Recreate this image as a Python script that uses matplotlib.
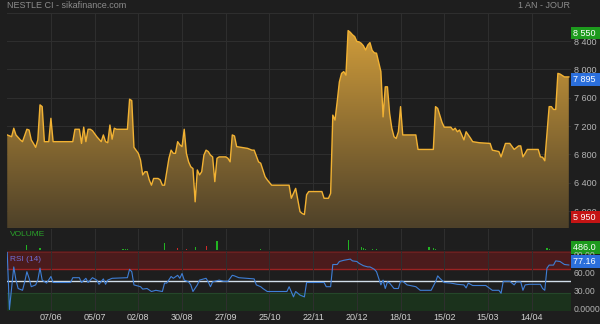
import numpy as np
import matplotlib
matplotlib.use("Agg")
import matplotlib.pyplot as plt
from matplotlib.colors import LinearSegmentedColormap
from matplotlib.transforms import blended_transform_factory, offset_copy

plt.rcParams["font.family"] = ["Liberation Sans", "DejaVu Sans"]

# ---- data (trading-day index, value) ----
price_day = [0, 2, 3, 4, 6, 7, 9, 10, 11, 12, 13, 14, 15, 16, 17, 19, 20, 21, 30, 31,
             33, 34, 35, 36, 37, 38, 39, 41, 43, 44, 45, 46, 47, 48, 49, 50, 55, 56, 57, 58,
             60, 61, 62, 63, 64, 65, 66, 67, 69, 70, 71, 72, 74, 75, 76, 77, 78, 79, 80, 81,
             82, 83, 84, 85, 86, 87, 88, 89, 90, 91, 92, 93, 94, 95, 96, 97, 100, 101, 102, 103,
             104, 105, 110, 112, 113, 115, 116, 118, 119, 121, 129, 130, 132, 134, 135, 136, 137, 138, 144, 145,
             147, 148, 149, 150, 151, 152, 153, 154, 155, 156, 157, 158, 159, 160, 161, 162, 163, 164, 165, 166,
             167, 168, 169, 171, 172, 173, 174, 175, 176, 177, 178, 179, 180, 181, 187, 188, 195, 196, 197, 199,
             200, 203, 204, 205, 206, 207, 208, 209, 210, 211, 212, 213, 216, 221, 222, 225, 226, 228, 230, 232,
             234, 235, 236, 237, 238, 243, 244, 245, 246, 248, 249, 250, 251, 252, 253, 255, 257]
price_val = [7075, 7050, 7170, 7075, 7005, 6980, 7155, 7145, 7005, 6955, 6900, 7005, 7500, 7475, 6980, 6980, 7310, 6980, 6980, 7155,
             7155, 6955, 7185, 6980, 7155, 7155, 7135, 7050, 6980, 7075, 6980, 6965, 7215, 7015, 7170, 7155, 7155, 7580, 7560, 6900,
             6815, 6720, 6510, 6555, 6555, 6440, 6365, 6460, 6460, 6440, 6365, 6365, 6745, 6860, 6815, 6815, 6980, 6935, 6910, 7155,
             6815, 6695, 6625, 6600, 6130, 6580, 6510, 6555, 6790, 6860, 6840, 6790, 6765, 6415, 6745, 6765, 6765, 6745, 6695, 7075,
             7060, 6910, 6885, 6860, 6860, 6695, 6675, 6485, 6440, 6365, 6365, 6180, 6320, 5990, 5965, 5950, 6230, 6275, 6275, 6180,
             6180, 6250, 7355, 7285, 7545, 7825, 7945, 7970, 7920, 8550, 8525, 8490, 8465, 8395, 8390, 8370, 8335, 8275, 8345, 8380,
             8270, 8235, 8230, 7970, 7330, 7755, 7755, 7380, 7170, 7050, 7025, 7120, 7475, 7075, 7075, 6870, 6870, 7475, 7450, 7250,
             7185, 7185, 7145, 7170, 7120, 7145, 7075, 7005, 7120, 7075, 7030, 6980, 6965, 6955, 6860, 6840, 6765, 6955, 6955, 6870,
             6920, 6920, 6765, 6815, 6870, 6870, 6765, 6760, 6710, 7475, 7475, 7435, 7435, 7945, 7935, 7895, 7895]

vol_day = [9, 15, 53, 54, 55, 72, 78, 82, 86, 91, 96, 116, 156, 162, 163, 164, 167, 169, 193, 195, 196, 247, 248]
vol_val = [243, 97, 50, 50, 50, 340, 97, 50, 170, 190, 440, 50, 486, 145, 97, 70, 70, 70, 145, 97, 50, 120, 50]
vol_up = [1, 1, 1, 1, 1, 1, 0, 0, 1, 0, 1, 1, 1, 1, 1, 1, 1, 1, 1, 1, 1, 1, 1]

rsi_day = [0, 1, 3, 4, 5, 7, 8, 9, 10, 11, 13, 14, 15, 16, 18, 20, 21, 29, 30, 33,
           34, 36, 37, 39, 41, 42, 44, 45, 46, 48, 55, 56, 57, 58, 61, 62, 64, 66, 68, 71,
           72, 73, 75, 76, 78, 79, 80, 81, 83, 84, 85, 87, 88, 91, 92, 93, 94, 97, 99, 101,
           103, 104, 106, 113, 114, 116, 117, 119, 128, 129, 131, 132, 134, 136, 137, 145, 146, 148, 149, 151,
           152, 154, 157, 158, 160, 161, 163, 165, 166, 168, 169, 170, 171, 172, 173, 174, 175, 177, 179, 180,
           181, 183, 187, 189, 194, 196, 197, 198, 200, 203, 206, 209, 210, 211, 213, 219, 222, 225, 226, 227,
           230, 232, 233, 235, 236, 237, 239, 244, 245, 246, 247, 248, 250, 251, 253, 255, 257]
rsi_val = [98, 3, 74, 52, 38, 35, 49, 66, 55, 41, 44, 52, 72, 52, 47, 58, 48, 48, 56, 56,
           48, 55, 48, 56, 52, 45, 54, 45, 52, 55, 56, 70, 66, 44, 41, 37, 38, 33, 35, 33,
           47, 47, 58, 55, 60, 55, 63, 52, 49, 44, 33, 44, 52, 55, 49, 41, 49, 52, 50, 50,
           60, 59, 56, 54, 44, 41, 38, 33, 33, 41, 24, 33, 27, 24, 48, 48, 41, 41, 78, 78,
           83, 85, 87, 84, 83, 80, 76, 74, 74, 70, 66, 55, 44, 52, 38, 49, 47, 38, 38, 50,
           50, 44, 41, 35, 35, 49, 59, 55, 48, 47, 45, 44, 39, 47, 43, 43, 35, 35, 30, 50,
           50, 44, 49, 49, 35, 44, 45, 45, 38, 35, 72, 77, 77, 84, 83, 78, 77.16]

tick_days = [20, 40, 60, 80, 100, 120, 140, 160, 180, 200, 220, 240]
tick_labels = ["07/06", "05/07", "02/08", "30/08", "27/09", "25/10",
               "22/11", "20/12", "18/01", "15/02", "15/03", "14/04"]

price_ticks = [6000, 6400, 6800, 7200, 7600, 8000, 8400, 8800]
rsi_ticks = [0, 30, 60, 90]
rsi_tick_labels = ["0.0000", "30.00", "60.00", "90.00"]

price_high, price_low, price_last = 8550, 5950, 7895
vol_max = 486.0
rsi_last = 77.16

BG = "#1e1e1e"
GRID = "#2f2f2f"
TXT = "#b4b4b4"

fig = plt.figure(figsize=(6, 3.24), dpi=100, facecolor=BG)


def panel(top, bottom):
    # pixel rows -> figure fraction
    return [7 / 600, 1 - bottom / 324, 564 / 600, (bottom - top) / 324]


ax_p = fig.add_axes(panel(12.5, 228))
ax_v = fig.add_axes(panel(229, 250))
ax_r = fig.add_axes(panel(251.3, 311.3))

XMIN, XMAX = -0.1, 258
for ax in (ax_p, ax_v, ax_r):
    ax.set_facecolor(BG)
    for s in ax.spines.values():
        s.set_visible(False)
    ax.set_xlim(XMIN, XMAX)
    ax.set_xticks(tick_days)
    ax.tick_params(length=0, labelsize=6.5, colors=TXT)
    ax.yaxis.tick_right()
    ax.grid(True, axis="x", color=GRID, lw=0.7)
    ax.set_axisbelow(True)

# ---- price panel ----
YMIN, YMAX = 5760, 8805
ax_p.set_ylim(YMIN, YMAX)
ax_p.set_yticks(price_ticks)
ax_p.set_yticklabels([f"{v:,}".replace(",", " ") if v < 8800 else "" for v in price_ticks])
ax_p.tick_params(axis="y", pad=2)
ax_p.grid(True, axis="y", color=GRID, lw=0.7)
ax_p.set_xticklabels([])

poly = ax_p.fill_between(price_day, price_val, YMIN, color="none", lw=0)
cmap = LinearSegmentedColormap.from_list("gold", ["#4e4129", "#dba43c"])
grad = np.linspace(0, 1, 256).reshape(-1, 1)
im = ax_p.imshow(grad, extent=[XMIN, XMAX, YMIN, YMAX], origin="lower",
                 aspect="auto", cmap=cmap, zorder=1)
im.set_clip_path(poly.get_paths()[0], transform=ax_p.transData)
ax_p.plot(price_day, price_val, color="#f2b233", lw=1, zorder=2)


def tag(ax, y, txt, fc, dy=-2.5):
    # coloured value box in the right margin, dy in pixels
    tr = blended_transform_factory(ax.transAxes, ax.transData)
    tr = offset_copy(tr, fig=fig, y=dy, units="dots")
    ax.text(1.004, y, txt, transform=tr, color="white", fontsize=6.5, va="center",
            ha="left", zorder=5, clip_on=False,
            bbox=dict(boxstyle="square,pad=0.2", fc=fc, ec="none"))


tag(ax_p, price_high, "8 550 ", "#1d9a1d")
tag(ax_p, price_last, "7 895 ", "#2b6fdc")
tag(ax_p, price_low, "5 950 ", "#c41414")

fig.text(7 / 600, 1 - 5 / 324, "NESTLE CI - sikafinance.com", color="#8c8c8c",
         fontsize=6.5, va="center")
fig.text(570 / 600, 1 - 5 / 324, "1 AN - JOUR", color="#8c8c8c",
         fontsize=6.5, va="center", ha="right")

# ---- volume panel ----
ax_v.set_ylim(0, 1020)
ax_v.set_yticks([])
ax_v.set_xticklabels([])
ax_v.bar(vol_day, vol_val, width=0.5,
         color=["#22b422" if u else "#d02a2a" for u in vol_up], zorder=2)
ax_v.axhline(0, color="#3c3c3c", lw=0.8)
ax_v.text(0.005, 0.75, "VOLUME", transform=ax_v.transAxes, color="#2aa02a",
          fontsize=6, va="center")
tag(ax_v, 120, f"{vol_max:.1f} ", "#1d9a1d", dy=0)

# ---- RSI panel ----
ax_r.set_ylim(0, 100)
ax_r.set_yticks(rsi_ticks)
ax_r.set_yticklabels([])
tr_lab = offset_copy(blended_transform_factory(ax_r.transAxes, ax_r.transData),
                     fig=fig, y=2, units="dots")
for v, lab in zip(rsi_ticks, rsi_tick_labels):
    ax_r.text(1.004, v, lab, transform=tr_lab, color=TXT, fontsize=6.2,
              va="center", ha="left", clip_on=False)
ax_r.set_xticklabels(tick_labels)
ax_r.tick_params(axis="x", pad=1.5, labelsize=6.5, colors="#d0d0d0")
ax_r.axhspan(70, 100, color="#4b1b1c", lw=0, zorder=0)
ax_r.axhline(99, color="#6a2020", lw=0.8, zorder=0.5)
ax_r.axhline(70, color="#9a2222", lw=1, zorder=0.5)
ax_r.axhspan(0, 30, color="#1b321c", lw=0, zorder=0)
ax_r.axhline(30, color="#25472a", lw=0.8, zorder=0.5)
ax_r.axhline(50, color="#d2deea", lw=1, zorder=1)
ax_r.plot(rsi_day, rsi_val, color="#3f7fd6", lw=0.8, zorder=2)
ax_r.text(0.005, 0.87, "RSI (14)", transform=ax_r.transAxes, color="#6f6fd8",
          fontsize=6, va="center")
tag(ax_r, rsi_last, f"{rsi_last:.2f} ", "#2b6fdc", dy=3.3)

fig.savefig("out.png", dpi=100, facecolor=BG)
